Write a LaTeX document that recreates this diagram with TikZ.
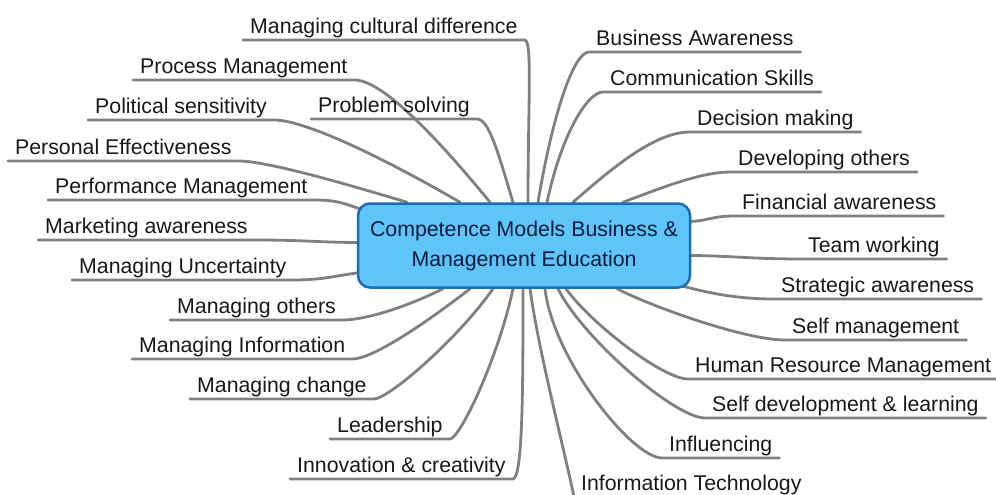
\documentclass[tikz,border=0pt]{standalone}
\usepackage{fontspec}
\setmainfont{Liberation Sans}
\usepackage{tikz}
\usetikzlibrary{backgrounds}

\definecolor{hubfill}{RGB}{95,196,248}
\definecolor{hubline}{RGB}{30,108,178}
\definecolor{hubtext}{RGB}{12,28,60}
\definecolor{twig}{RGB}{128,128,128}

\begin{document}
\begin{tikzpicture}[x=1pt, y=-1pt,
	leaf/.style={anchor=south west, font=\fontsize{21.3}{25}\selectfont, text=black!90, inner xsep=7pt, inner ysep=1.5pt, text height=16pt, text depth=5pt},
	hub/.style={draw=hubline, fill=hubfill, line width=2.5pt, rounded corners=12pt, minimum width=332pt, minimum height=84pt, inner sep=0pt, align=center, text=hubtext, font=\fontsize{21.3}{30}\selectfont},
	branch/.style={draw=twig, line width=2.8pt, line cap=round, line join=round}]
			\useasboundingbox (0,0) rectangle (996,495);
			
			\node[hub] (hub) at (524,245.5) {Competence Models Business \&\\Management Education};
			
			\node[leaf] (cult) at (243,40) {Managing cultural difference};
			\node[leaf] (proc) at (133,80) {Process Management};
			\node[leaf] (prob) at (311,119) {Problem solving};
			\node[leaf] (poli) at (88,120) {Political sensitivity};
			\node[leaf] (pers) at (8,161) {Personal Effectiveness};
			\node[leaf] (perf) at (48,200) {Performance Management};
			\node[leaf] (mark) at (38,240) {Marketing awareness};
			\node[leaf] (unc) at (72,280) {Managing Uncertainty};
			\node[leaf] (oth) at (170,320) {Managing others};
			\node[leaf] (info) at (132,359) {Managing Information};
			\node[leaf] (chg) at (190,399) {Managing change};
			\node[leaf] (lead) at (330,439) {Leadership};
			\node[leaf] (inno) at (290,479) {Innovation \& creativity};
			\node[leaf] (it) at (574,497) {Information Technology};
			
			\node[leaf] (bus) at (589,52) {Business Awareness};
			\node[leaf] (comm) at (603,92) {Communication Skills};
			\node[leaf] (dec) at (690,132) {Decision making};
			\node[leaf] (dev) at (731,172) {Developing others};
			\node[leaf] (fin) at (735,216) {Financial awareness};
			\node[leaf] (team) at (801,259) {Team working};
			\node[leaf] (strat) at (774,299) {Strategic awareness};
			\node[leaf] (selfm) at (785,340) {Self management};
			\node[leaf] (hrm) at (688,379) {Human Resource Management};
			\node[leaf] (selfd) at (705,418) {Self development \& learning};
			\node[leaf] (infl) at (662,458) {Influencing};
			
			\begin{scope}[on background layer]
			\fill[white] (0,0) rectangle (996,495);
			
			\draw[branch] (cult.south west) -- (cult.south east) .. controls +(8,0) and +(0,-100) .. ([xshift=4]hub.north);
			\draw[branch] (proc.south west) -- (proc.south east) .. controls +(30,0) and +(-45,-55) .. ([xshift=-34]hub.north);
			\draw[branch] (prob.south west) -- (prob.south east) .. controls +(12,0) and +(-15,-50) .. ([xshift=-11]hub.north);
			\draw[branch] (poli.south west) -- (poli.south east) .. controls +(35,0) and +(-60,-35) .. ([xshift=-64]hub.north);
			\draw[branch] (pers.south west) -- (pers.south east) .. controls +(30,0) and +(-50,-15) .. ([xshift=-117]hub.north);
			\draw[branch] (perf.south west) -- (perf.south east) .. controls +(25,0) and +(-20,-6) .. ([xshift=8,yshift=-8]hub.north west);
			\draw[branch] (mark.south west) -- (mark.south east) .. controls +(50,0) and +(-40,0) .. ([xshift=4,yshift=3]hub.west);
			\draw[branch] (unc.south west) -- (unc.south east) .. controls +(30,0) and +(-25,3) .. ([xshift=4,yshift=-27]hub.west);
			\draw[branch] (oth.south west) -- (oth.south east) .. controls +(20,0) and +(-40,20) .. ([xshift=-81]hub.south);
			\draw[branch] (info.south west) -- (info.south east) .. controls +(20,0) and +(-45,35) .. ([xshift=-54]hub.south);
			\draw[branch] (chg.south west) -- (chg.south east) .. controls +(15,0) and +(-35,50) .. ([xshift=-31]hub.south);
			\draw[branch] (lead.south west) -- (lead.south east) .. controls +(10,0) and +(-15,70) .. ([xshift=-11]hub.south);
			\draw[branch] (inno.south west) -- (inno.south east) .. controls +(10,0) and +(0,100) .. ([xshift=-1]hub.south);
			\draw[branch] (it.south east) -- (it.south west) .. controls +(-8,-40) and +(8,60) .. ([xshift=6]hub.south);
			
			\draw[branch] (bus.south east) -- (bus.south west) .. controls +(-15,0) and +(15,-90) .. ([xshift=14]hub.north);
			\draw[branch] (comm.south east) -- (comm.south west) .. controls +(-15,0) and +(15,-70) .. ([xshift=23]hub.north);
			\draw[branch] (dec.south east) -- (dec.south west) .. controls +(-35,0) and +(40,-35) .. ([xshift=49]hub.north);
			\draw[branch] (dev.south east) -- (dev.south west) .. controls +(-30,0) and +(40,-15) .. ([xshift=99]hub.north);
			\draw[branch] (fin.south east) -- (fin.south west) .. controls +(-25,0) and +(20,0) .. ([xshift=-4,yshift=24]hub.east);
			\draw[branch] (team.south east) -- (team.south west) .. controls +(-50,0) and +(40,0) .. ([xshift=-4,yshift=-10]hub.east);
			\draw[branch] (strat.south east) -- (strat.south west) .. controls +(-35,0) and +(30,8) .. ([xshift=-10,yshift=3]hub.south east);
			\draw[branch] (selfm.south east) -- (selfm.south west) .. controls +(-40,0) and +(35,18) .. ([xshift=93]hub.south);
			\draw[branch] (hrm.south east) -- (hrm.south west) .. controls +(-25,0) and +(25,35) .. ([xshift=42]hub.south);
			\draw[branch] (selfd.south east) -- (selfd.south west) .. controls +(-30,0) and +(25,50) .. ([xshift=34]hub.south);
			\draw[branch] (infl.south east) -- (infl.south west) .. controls +(-30,0) and +(8,70) .. ([xshift=21]hub.south);
			\end{scope}
\end{tikzpicture}
\end{document}
